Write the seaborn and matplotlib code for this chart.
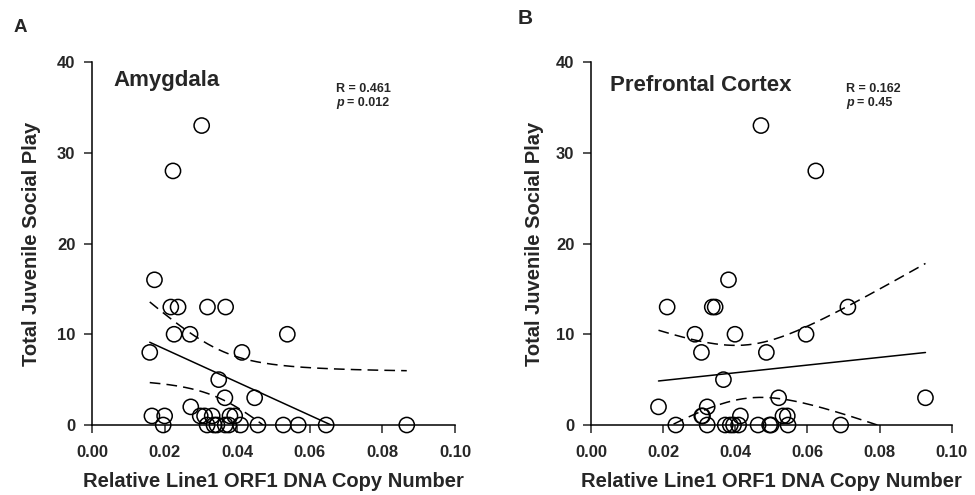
"""Line1 ORF1 copy number vs juvenile social play, two brain regions."""

import matplotlib

matplotlib.use("Agg")
import matplotlib.pyplot as plt
import numpy as np
import pandas as pd
import seaborn as sns

# Amygdala
amyg_x = [0.0302, 0.0223, 0.0172, 0.0217, 0.0237, 0.0318, 0.0368,
          0.0226, 0.0270, 0.0538, 0.0159, 0.0413, 0.0349, 0.0366, 0.0448,
          0.0272, 0.0165, 0.0200, 0.0298, 0.0310, 0.0331, 0.0380, 0.0393,
          0.0196, 0.0317, 0.0336, 0.0344, 0.0367, 0.0377, 0.0409, 0.0457,
          0.0527, 0.0568, 0.0645, 0.0867]
amyg_y = [33, 28, 16, 13, 13, 13, 13,
          10, 10, 10, 8, 8, 5, 3, 3,
          2, 1, 1, 1, 1, 1, 1, 1,
          0, 0, 0, 0, 0, 0, 0, 0,
          0, 0, 0, 0]

# Prefrontal cortex
pfc_x = [0.0471, 0.0623, 0.0381, 0.0211, 0.0336, 0.0344, 0.0712,
         0.0288, 0.0399, 0.0596, 0.0306, 0.0486, 0.0367, 0.0520, 0.0927,
         0.0187, 0.0322, 0.0307, 0.0309, 0.0414, 0.0532, 0.0544,
         0.0235, 0.0322, 0.0372, 0.0386, 0.0395, 0.0409, 0.0463, 0.0495,
         0.0499, 0.0546, 0.0692]
pfc_y = [33, 28, 16, 13, 13, 13, 13,
         10, 10, 10, 8, 8, 5, 3, 3,
         2, 2, 1, 1, 1, 1, 1,
         0, 0, 0, 0, 0, 0, 0, 0,
         0, 0, 0]

x_ticks = [0.00, 0.02, 0.04, 0.06, 0.08, 0.10]
y_ticks = [0, 10, 20, 30, 40]

# region, x, y, R, p, layout tweaks (title x/y, stats x, ylabel x)
panels = [
    ("Amygdala", amyg_x, amyg_y, "0.461", "0.012", 0.058, 0.950, 0.672, -0.168),
    ("Prefrontal Cortex", pfc_x, pfc_y, "0.162", "0.45", 0.053, 0.935, 0.708, -0.156),
]

T_CRIT = 2.04  # two-sided 95% t, df ~ 31

sns.set_theme(style="ticks")
plt.rcParams["font.family"] = ["Liberation Sans", "DejaVu Sans"]
plt.rcParams["font.weight"] = "bold"

fig = plt.figure(figsize=(9.75, 4.95), dpi=100)
axes = [fig.add_axes([0.0944, 0.1414, 0.3723, 0.7333]),
        fig.add_axes([0.6062, 0.1414, 0.3700, 0.7333])]

for ax, (region, xs, ys, r_txt, p_txt, tx, ty, sx, ylx) in zip(axes, panels):
    df = pd.DataFrame({"copy": xs, "play": ys})
    sns.scatterplot(data=df, x="copy", y="play", ax=ax, s=120, marker="o",
                    edgecolor="black", linewidth=1.1, clip_on=False, zorder=3)
    ax.collections[0].set_facecolor("none")

    # linear fit with 95% confidence band for the mean
    x = df["copy"].to_numpy()
    y = df["play"].to_numpy()
    n = len(x)
    slope, intercept = np.polyfit(x, y, 1)
    resid = y - (slope * x + intercept)
    s = np.sqrt(np.sum(resid ** 2) / (n - 2))
    xx = np.linspace(x.min(), x.max(), 200)
    fit = slope * xx + intercept
    half = T_CRIT * s * np.sqrt(1 / n + (xx - x.mean()) ** 2 / np.sum((x - x.mean()) ** 2))
    ax.plot(xx, fit, color="black", lw=1.1)
    ax.plot(xx, fit + half, color="black", lw=1.1, ls=(0, (7, 4)))
    ax.plot(xx, fit - half, color="black", lw=1.1, ls=(0, (7, 4)))

    ax.set_xlim(0, 0.10)
    ax.set_ylim(0, 40)
    ax.set_xticks(x_ticks)
    ax.set_xticklabels([f"{t:.2f}" for t in x_ticks])
    ax.set_yticks(y_ticks)
    ax.tick_params(labelsize=12, length=5.5, width=1.1, direction="out")
    ax.tick_params(axis="x", pad=9)
    ax.tick_params(axis="y", pad=6.5)
    for lab in ax.get_xticklabels() + ax.get_yticklabels():
        lab.set_fontweight("bold")
    sns.despine(ax=ax)
    for sp in ("left", "bottom"):
        ax.spines[sp].set_linewidth(1.1)
        ax.spines[sp].set_color("black")

    ax.set_xlabel("Relative Line1 ORF1 DNA Copy Number", fontsize=14.5,
                  fontweight="bold")
    ax.set_ylabel("Total Juvenile Social Play", fontsize=14.5, fontweight="bold")
    ax.xaxis.set_label_coords(0.5, -0.157)
    ax.yaxis.set_label_coords(ylx, 0.5)
    ax.xaxis.label.set_va("center")
    ax.yaxis.label.set_va("center")

    ax.text(tx, ty, region, transform=ax.transAxes, fontsize=16,
            fontweight="bold", va="center")
    ax.text(sx, 0.926, f"R = {r_txt}", transform=ax.transAxes, fontsize=9,
            fontweight="bold", va="center")
    ax.text(sx, 0.887, "p", transform=ax.transAxes, fontsize=9,
            fontweight="bold", style="italic", va="center")
    ax.text(sx + 0.03, 0.887, f"= {p_txt}", transform=ax.transAxes, fontsize=9,
            fontweight="bold", va="center")

fig.text(20 / 975, 1 - 27 / 495, "A", fontsize=13.5, fontweight="bold",
         ha="center", va="center")
fig.text(525 / 975, 1 - 18 / 495, "B", fontsize=15, fontweight="bold",
         ha="center", va="center")

fig.savefig("out.png", dpi=100)
